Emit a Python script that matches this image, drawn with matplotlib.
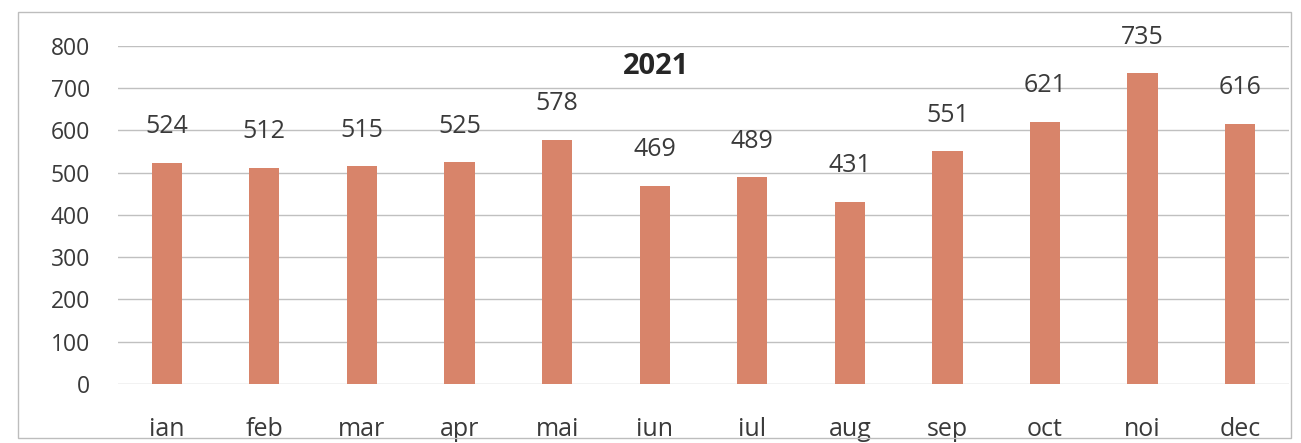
import matplotlib.pyplot as plt
from matplotlib.patches import Rectangle

months = ["ian", "feb", "mar", "apr", "mai", "iun",
          "iul", "aug", "sep", "oct", "noi", "dec"]
values = [524, 512, 515, 525, 578, 469, 489, 431, 551, 621, 735, 616]
yticks = [0, 100, 200, 300, 400, 500, 600, 700, 800]


def main():
    plt.rcParams["font.family"] = ["Open Sans", "DejaVu Sans"]
    fig = plt.figure(figsize=(13.01, 4.43), dpi=100)
    ax = fig.add_axes([0.0907, 0.1332, 0.9, 0.763])

    x = range(len(months))
    bars = ax.bar(x, values, width=0.31, color="#d8846a", zorder=2)

    for bar, v in zip(bars, values):
        ax.annotate(str(v), (bar.get_x() + bar.get_width() / 2, v),
                    xytext=(0, 26), textcoords="offset points",
                    ha="center", va="center", fontsize=18, color="#3a3a3a")

    ax.set_xlim(-0.5, len(months) - 0.5)
    ax.set_ylim(0, 800)
    ax.set_yticks(yticks)
    ax.set_xticks(list(x))
    ax.set_xticklabels(months, fontsize=18)
    ax.tick_params(axis="both", length=0, colors="#3a3a3a")
    ax.tick_params(axis="y", labelsize=16.5, pad=20)
    ax.tick_params(axis="x", pad=24)
    ax.yaxis.grid(True, color="#c0c0c0", linewidth=1, zorder=0)
    for s in ax.spines.values():
        s.set_visible(False)

    ax.text(0.46, 0.94, "2021", transform=ax.transAxes, ha="center",
            va="center", fontsize=21, fontweight="bold", color="#262626")

    fig.patches.append(Rectangle((0.014, 0.012), 0.978, 0.96,
                                 transform=fig.transFigure, fill=False,
                                 edgecolor="#bdbdbd", linewidth=1))

    fig.savefig("out.png", dpi=100)


if __name__ == "__main__":
    main()
